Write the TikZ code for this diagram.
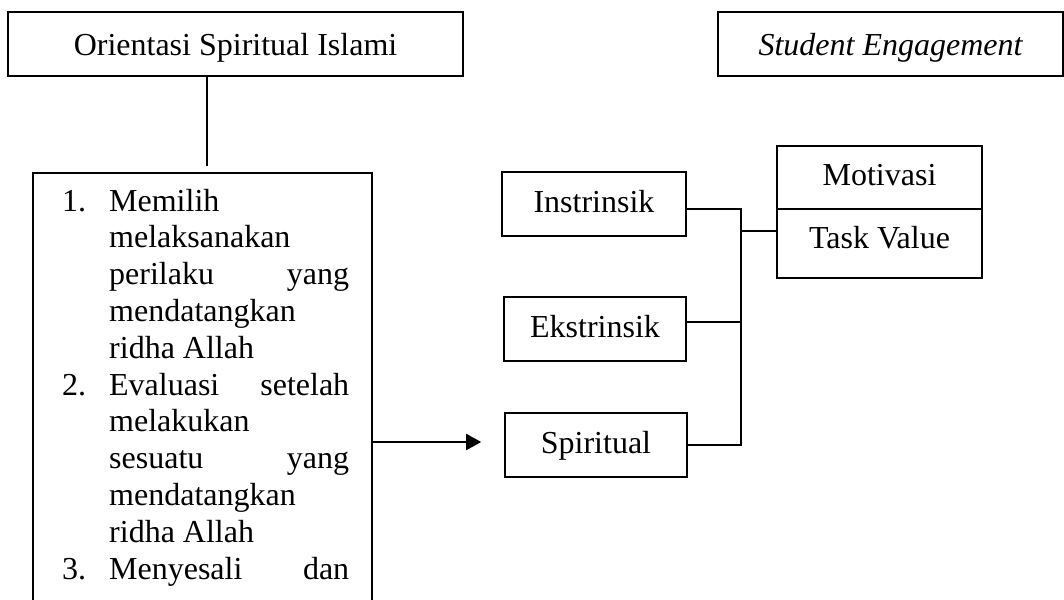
\documentclass[tikz,border=0pt]{standalone}
\usepackage{fontspec}
\setmainfont{Liberation Serif}
\usetikzlibrary{arrows.meta}
\newcommand\lstline[2]{\hbox to 287pt{\hbox to 47pt{#1\hfil}\hbox to 240pt{#2}}}
\begin{document}
\begin{tikzpicture}[x=1pt,y=-1pt,
  font=\fontsize{32}{36.8}\selectfont,
  box/.style={draw, line width=1.6pt, inner sep=0pt, text height=22pt, text depth=6pt, minimum height=64pt},
  conn/.style={line width=1.8pt}]
\useasboundingbox (0,0) rectangle (1064,599);
% top boxes
\node[box, minimum width=455pt, text height=26pt, text depth=2pt] (osi) at (235.5,44) {Orientasi Spiritual Islami};
\node[box, minimum width=345pt, text height=26pt, text depth=2pt] (se) at (890.5,44) {\itshape Student Engagement};
% list box
\node[draw, line width=1.6pt, inner sep=0pt, minimum width=339pt, minimum height=480pt, anchor=north west] (list) at (32,172) {};
\node[inner sep=0pt, anchor=base west] (listtext) at (62,211) {\parbox[t]{287pt}{\fontsize{32}{36.8}\selectfont\lineskiplimit=-100pt
\lstline{1.}{Memilih\hfil}
\lstline{}{melaksanakan\hfil}
\lstline{}{perilaku\hfill yang}
\lstline{}{mendatangkan\hfil}
\lstline{}{ridha Allah\hfil}
\lstline{2.}{Evaluasi\hfill setelah}
\lstline{}{melakukan\hfil}
\lstline{}{sesuatu\hfill yang}
\lstline{}{mendatangkan\hfil}
\lstline{}{ridha Allah\hfil}
\lstline{3.}{Menyesali\hfill dan}}};
% middle boxes
\node[box, minimum width=184pt] (ins) at (594,204) {Instrinsik};
\node[box, minimum width=182pt] (eks) at (595,329) {Ekstrinsik};
\node[box, minimum width=182pt] (spi) at (596,445) {Spiritual};
% motivasi / task value
\node[box, minimum width=205pt, minimum height=63pt] (mot) at (879.5,177.5) {Motivasi};
\node[box, minimum width=205pt, minimum height=69pt, text depth=13pt] (tv) at (879.5,243.5) {Task Value};
% connectors
\coordinate (stem) at (207,0);
\coordinate (bus) at (741,0);
\coordinate (arr) at (0,442);
\draw[conn, shorten >=6pt] (stem |- osi.south) -- (stem |- list.north);
\draw[conn, -{Triangle[length=15pt,width=16pt]}, shorten >=23pt] (list.east |- arr) -- (spi.west |- arr);
\draw[conn] ([yshift=-5pt]ins.east) -| (spi.east -| bus) -- (spi.east);
\draw[conn] ([yshift=7pt]eks.east) -- ([yshift=7pt]eks.east -| bus);
\draw[conn] ([yshift=12.5pt]tv.west -| bus) -- ([yshift=12.5pt]tv.west);
\end{tikzpicture}
\end{document}
